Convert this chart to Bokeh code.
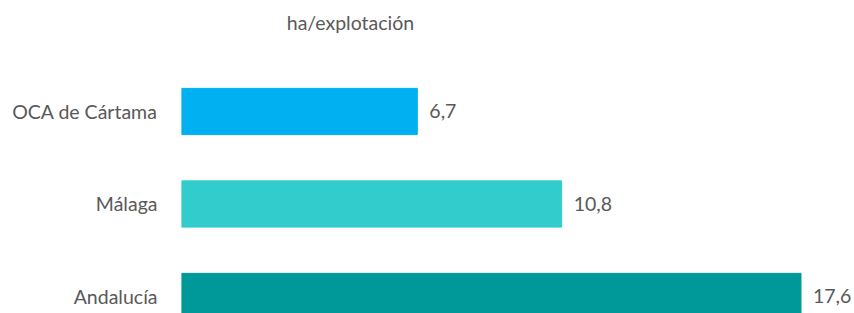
from bokeh.plotting import figure
from bokeh.models import ColumnDataSource, Range1d, FixedTicker, Label
from bokeh.core.properties import value
from bokeh.embed import file_html
from bokeh.resources import INLINE

categories = ["OCA de Cártama", "Málaga", "Andalucía"]
values = [6.7, 10.8, 17.6]
labels = ["6,7", "10,8", "17,6"]
colors = ["#00B0F0", "#33CCCC", "#009999"]
title_text = "ha/explotación"

FONT = "Lato"
GRAY = "#595959"
FS = "19.5px"

n = len(categories)
ypos = [n - 1 - i for i in range(n)]

src = ColumnDataSource(dict(y=ypos, v=values, lab=labels, col=colors, cat=categories))

p = figure(width=854, height=313, output_backend="svg", toolbar_location=None,
           x_range=Range1d(0, 19.12), y_range=Range1d(-0.184, 3.2),
           min_border_left=181, min_border_right=0, min_border_top=0, min_border_bottom=0)

p.hbar(y="y", left=0, right="v", height=0.5, color="col", source=src)
p.text(x="v", y="y", text="lab", source=src, x_offset=12, text_baseline="middle",
       text_align="left", text_font=value(FONT), text_font_size=FS, text_color=GRAY)

p.add_layout(Label(x=4.8, y=2.962, text=title_text, text_align="center", text_baseline="middle",
                   text_font=FONT, text_font_size=FS, text_color=GRAY))

p.xaxis.visible = False
p.xgrid.grid_line_color = None
p.ygrid.grid_line_color = None
p.outline_line_color = None

ax = p.yaxis[0]
ax.ticker = FixedTicker(ticks=ypos)
ax.major_label_overrides = {y: c for y, c in zip(ypos, categories)}
ax.axis_line_color = None
ax.major_tick_line_color = None
ax.minor_tick_line_color = None
ax.major_tick_out = 0
ax.major_tick_in = 0
ax.major_label_standoff = 24
ax.major_label_text_font = FONT
ax.major_label_text_font_size = FS
ax.major_label_text_color = GRAY

open("out.html", "w").write(file_html(p, INLINE))
